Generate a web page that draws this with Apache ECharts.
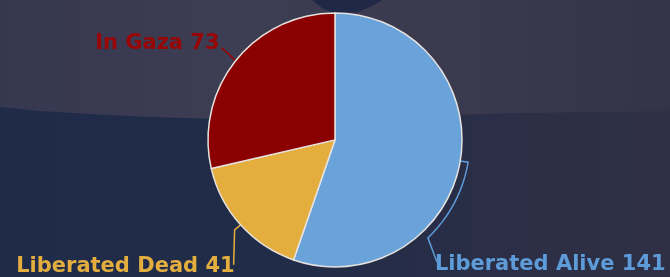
<!DOCTYPE html>
<html>
<head>
<meta charset="utf-8">
<script src="https://cdn.jsdelivr.net/npm/echarts@6/dist/echarts.min.js"></script>
<style>
  html, body { margin: 0; padding: 0; }
  #chart { width: 670px; height: 277px;
    background: linear-gradient(90deg, #1f2b49 0%, #212c48 45%, #2b2e46 75%, #2f3045 100%); }
</style>
</head>
<body>
<div id="chart"></div>
<script>
// data
const names = ['Liberated Alive', 'Liberated Dead', 'In Gaza'];
const values = [141, 41, 73];
const colors = ['#6aa3d9', '#e3ae3e', '#8b0000'];
const labelColors = ['#5e9cd9', '#e3ae3e', '#980606'];

const dom = document.getElementById('chart');
const myChart = echarts.init(dom, null, { renderer: 'canvas' });

const W = 670, H = 277;
const cx = W * 0.5, cy = H * 0.505, R = 127;

// label line shapes, built from the default anchor on the pie edge
const labelPlace = (params) => {
    const i = params.dataIndex;
    const a = params.labelLinePoints[0];
    if (i === 2) {
        return {
            x: a[0] - 16, y: a[1] - 17, align: 'right', verticalAlign: 'middle',
            labelLinePoints: [a, [a[0] - 7, a[1] - 7], [a[0] - 14, a[1] - 13]]
        };
    }
    if (i === 1) {
        return {
            x: a[0] - 6, y: a[1] + 42, align: 'right', verticalAlign: 'middle',
            labelLinePoints: [a, [a[0] - 6, a[1] + 5], [a[0] - 7, a[1] + 40]]
        };
    }
    // bracket following the arc for the big slice
    const r2 = R + 8;
    const a0 = Math.atan2(a[0] - cx, cy - a[1]);
    const a1 = a0 + 37 * Math.PI / 180;
    const pts = [a];
    for (let k = 0; k <= 12; k++) {
        const t = a0 + (a1 - a0) * k / 12;
        pts.push([cx + r2 * Math.sin(t), cy - r2 * Math.cos(t)]);
    }
    const last = pts[pts.length - 1];
    pts.push([last[0] + 9, last[1] + 24]);
    return {
        x: last[0] + 7, y: last[1] + 27, align: 'left', verticalAlign: 'middle',
        labelLinePoints: pts
    };
};

const option = {
    animation: false,
    graphic: [
        {
            type: 'polygon', z: -10, silent: true,
            shape: { points: [[0, 0], [W, 0], [W, 111], [600, 112], [520, 113], [450, 115], [380, 116], [300, 118], [220, 119], [150, 117], [90, 114], [40, 111], [0, 107]] },
            style: {
                fill: new echarts.graphic.LinearGradient(0, 0, 1, 0, [
                    { offset: 0, color: '#363850' },
                    { offset: 0.35, color: '#3d3d53' },
                    { offset: 0.7, color: '#3a394d' },
                    { offset: 1, color: '#353447' }
                ])
            }
        },
        {
            type: 'polygon', z: -9, silent: true,
            shape: { points: [[312, 0], [382, 0], [372, 6], [358, 12], [336, 14], [322, 8]] },
            style: { fill: '#1f2846' }
        }
    ],
    series: [
        {
            type: 'pie',
            center: ['50%', '50.5%'],
            radius: R,
            startAngle: 90,
            clockwise: true,
            avoidLabelOverlap: false,
            itemStyle: { borderColor: '#e6e2df', borderWidth: 1.5 },
            label: {
                show: true,
                position: 'outside',
                formatter: '{b} {c}',
                fontFamily: 'DejaVu Sans',
                fontWeight: 'bold',
                fontSize: 21
            },
            labelLine: { show: true, lineStyle: { width: 1.5 } },
            labelLayout: labelPlace,
            data: names.map((n, i) => ({
                name: n,
                value: values[i],
                itemStyle: { color: colors[i] },
                label: { color: labelColors[i] },
                labelLine: { lineStyle: { color: labelColors[i] } }
            }))
        }
    ]
};

myChart.setOption(option);
window.addEventListener('resize', myChart.resize);
</script>
</body>
</html>
